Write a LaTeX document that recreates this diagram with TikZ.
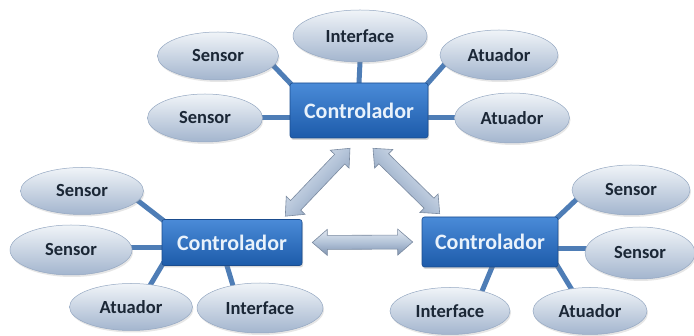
\documentclass[tikz,border=0pt]{standalone}
\usepackage{fontspec}
\setmainfont{Carlito}
\usetikzlibrary{shapes.geometric,calc,shadows,backgrounds}

\definecolor{boxtop}{HTML}{4A8BD8}
\definecolor{boxbot}{HTML}{1D5BAA}
\definecolor{boxline}{HTML}{1A4C8E}
\definecolor{boxtext}{HTML}{E9F2FB}
\definecolor{elltop}{HTML}{F0F4F8}
\definecolor{ellbot}{HTML}{A3B5CE}
\definecolor{elline}{HTML}{95A8C2}
\definecolor{elltext}{HTML}{1B2736}
\definecolor{linkblue}{HTML}{4E7DB6}
\definecolor{arrlight}{HTML}{E4EAF2}
\definecolor{arrmid}{HTML}{B3C3D8}
\definecolor{arrdark}{HTML}{7F93B0}
\definecolor{arrline}{HTML}{7A8AA0}

\tikzset{
  ctrl/.style={rectangle, rounded corners=2.5pt, top color=boxtop, bottom color=boxbot,
    draw=boxline, line width=0.6pt, text=boxtext, inner sep=0pt,
    font=\bfseries\fontsize{22}{22}\selectfont,
    drop shadow={opacity=0.3, shadow xshift=1pt, shadow yshift=-2pt}},
  elem/.style={ellipse, top color=elltop, bottom color=ellbot, draw=elline,
    line width=0.5pt, text=elltext, inner sep=0pt,
    font=\bfseries\fontsize{18.5}{18.5}\selectfont,
    drop shadow={opacity=0.2, shadow xshift=1pt, shadow yshift=-2pt}},
  link/.style={linkblue, line width=5pt, shorten <=-4pt, shorten >=-4pt},
  bigarrow/.style={draw=arrline, line width=0.6pt, top color=arrlight,
    bottom color=arrdark, middle color=arrmid}
}

% double-headed block arrow between two named points
\newcommand\blockarrow[3]{%
  \coordinate (#1-h) at ($(#1)!15pt!(#2)$);
  \coordinate (#2-h) at ($(#2)!15pt!(#1)$);
  \path[bigarrow, shading angle=#3] (#1)
    -- ($(#1-h)!13pt!90:(#2)$) -- ($(#1-h)!7pt!90:(#2)$)
    -- ($(#2-h)!7pt!-90:(#1)$) -- ($(#2-h)!13pt!-90:(#1)$)
    -- (#2)
    -- ($(#2-h)!13pt!90:(#1)$) -- ($(#2-h)!7pt!90:(#1)$)
    -- ($(#1-h)!7pt!-90:(#2)$) -- ($(#1-h)!13pt!-90:(#2)$)
    -- cycle;}

\begin{document}
\begin{tikzpicture}[x=1pt,y=-1pt]
\useasboundingbox (0,0) rectangle (694,336);

% top cluster
\node[ctrl, minimum width=138pt, minimum height=55pt] (t-c) at (359,110.5) {Controlador};
\node[elem, minimum width=121pt, minimum height=48pt] (t-s1) at (218,56) {Sensor};
\node[elem, minimum width=134pt, minimum height=52pt] (t-i) at (360,36) {Interface};
\node[elem, minimum width=118pt, minimum height=50pt] (t-a1) at (499,55) {Atuador};
\node[elem, minimum width=115pt, minimum height=48pt] (t-s2) at (205,118) {Sensor};
\node[elem, minimum width=115pt, minimum height=50pt] (t-a2) at (512,118) {Atuador};

% bottom-left cluster
\node[ctrl, minimum width=140pt, minimum height=46pt] (bl-c) at (232,242.5) {Controlador};
\node[elem, minimum width=123pt, minimum height=47pt] (bl-s1) at (82,191) {Sensor};
\node[elem, minimum width=122pt, minimum height=50pt] (bl-s2) at (71,250) {Sensor};
\node[elem, minimum width=123pt, minimum height=47pt] (bl-a) at (131,307) {Atuador};
\node[elem, minimum width=126pt, minimum height=50pt] (bl-i) at (260,308) {Interface};

% bottom-right cluster
\node[ctrl, minimum width=136pt, minimum height=50pt] (br-c) at (490,242) {Controlador};
\node[elem, minimum width=118pt, minimum height=50pt] (br-s1) at (631,190) {Sensor};
\node[elem, minimum width=110pt, minimum height=52pt] (br-s2) at (640,253) {Sensor};
\node[elem, minimum width=120pt, minimum height=47pt] (br-i) at (450,311) {Interface};
\node[elem, minimum width=114pt, minimum height=47pt] (br-a) at (590,311) {Atuador};

% connectors, kept behind the shapes
\begin{scope}[on background layer]
  \draw[link] (t-s1.-10) -- (t-c.north west);
  \draw[link] (t-i.south) -- (t-c.north);
  \draw[link] (t-a1.190) -- (t-c.north east);
  \draw[link] (t-s2.east) -- (t-s2.east -| t-c.west);
  \draw[link] (t-a2.west) -- (t-a2.west -| t-c.east);

  \draw[link] (bl-s1.-10) -- (bl-c.north west);
  \draw[link] ($(bl-s2.east)+(0,-2)$) -- ($(bl-s2.east -| bl-c.west)+(0,-2)$);
  \draw[link] (bl-a.49) -- (bl-c.south west);
  \draw[link] (bl-i.140) -- ($(bl-c.south)+(-5,0)$);

  \draw[link] (br-s1.190) -- (br-c.north east);
  \draw[link] ($(br-s2.west)+(0,-4)$) -- ($(br-s2.west -| br-c.east)+(0,-4)$);
  \draw[link] (br-i.32) -- ($(br-c.south)+(2,0)$);
  \draw[link] (br-a.130) -- (br-c.south east);
\end{scope}

% links between the controllers
\coordinate (ar1a) at ($(t-c.south)+(-9,10)$);
\coordinate (ar1b) at ($(bl-c.north east)+(-17,-3)$);
\coordinate (ar2a) at ($(t-c.south)+(14,10)$);
\coordinate (ar2b) at ($(br-c.north west)+(18,-3)$);
\coordinate (ar3a) at ($(bl-c.east)+(10,0)$);
\coordinate (ar3b) at ($(br-c.west)+(-9,0)$);
\blockarrow{ar1a}{ar1b}{46.7}
\blockarrow{ar2a}{ar2b}{-44.6}
\blockarrow{ar3a}{ar3b}{0}
\end{tikzpicture}
\end{document}
